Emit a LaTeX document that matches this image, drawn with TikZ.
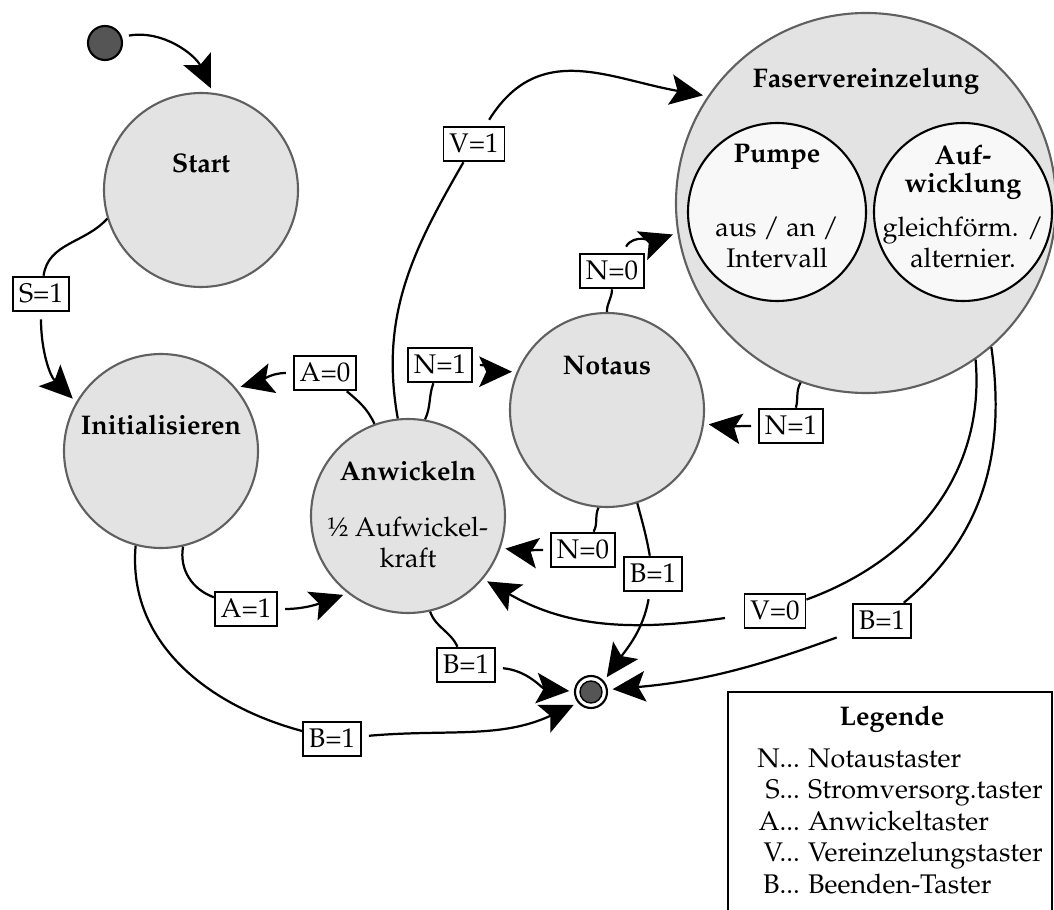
\documentclass[tikz,border=0pt]{standalone}
\usepackage[T1]{fontenc}
\usepackage{mathpazo}
\usetikzlibrary{arrows.meta}
\definecolor{stategray}{HTML}{E3E3E3}
\definecolor{rimgray}{HTML}{606060}
\definecolor{dotgray}{HTML}{555555}
\definecolor{subwhite}{HTML}{F8F8F8}
\newcommand{\px}{0.015cm}
\newcommand{\figfont}{\fontsize{11.5pt}{13.5pt}\selectfont}

\tikzset{
  state/.style={circle, draw=rimgray, fill=stategray, line width=0.9pt,
    minimum size=2.91cm, inner sep=0pt},
  bigstate/.style={state, minimum size=5.7cm},
  substate/.style={circle, draw=black, fill=subwhite, line width=0.9pt,
    minimum size=2.67cm, inner sep=0pt},
  % multi-line nodes sit on the baseline of their last line
  title/.style={font=\figfont\bfseries, anchor=base, align=center},
  body/.style={font=\figfont, anchor=base, align=center},
  cond/.style={draw, fill=white, line width=0.8pt, font=\figfont,
    inner xsep=2.5pt, inner ysep=2.4pt, text height=8.5pt, text depth=1.5pt},
  trans/.style={line width=0.95pt, -{Stealth[length=14pt,width=13pt,inset=3pt]},
    shorten >=2pt, shorten <=3pt},
  initdot/.style={circle, draw, fill=dotgray, line width=0.9pt,
    minimum size=0.51cm, inner sep=0pt},
  finring/.style={circle, draw, fill=white, line width=0.9pt,
    minimum size=0.48cm, inner sep=0pt},
  findot/.style={circle, draw, fill=dotgray, line width=0.6pt,
    minimum size=0.33cm, inner sep=0pt}
}

\begin{document}
\begin{tikzpicture}[x=\px, y=\px]
  \clip (0,0) rectangle (1054,909);

  % states
  \node[initdot] (ini) at (105,866) {};
  \node[state] (start) at (201,719) {};
  \node[title] (start-t) at (201,736) {Start};

  \node[state] (init) at (161,458) {};
  \node[title] (init-t) at (161,474) {Initialisieren};

  \node[state] (anw) at (408,393) {};
  \node[title] (anw-t) at (408,428) {Anwickeln};
  \node[body] (anw-b) at (408,341) {\textonehalf{} Aufwickel-\\kraft};

  \node[state] (notaus) at (607,499) {};
  \node[title] (notaus-t) at (607,534) {Notaus};

  \node[bigstate] (faser) at (866,706) {};
  \node[title] (faser-t) at (866,821) {Faservereinzelung};
  \node[substate] (pumpe) at (777,697) {};
  \node[title] (pumpe-t) at (777,746) {Pumpe};
  \node[body] (pumpe-b) at (777,641) {aus / an /\\Intervall};
  \node[substate] (aufw) at (963,697) {};
  \node[title] (aufw-t) at (963,716) {Auf-\\[-1.5pt]wicklung};
  \node[body] (aufw-b) at (963,641) {gleichf\"orm. /\\alternier.};

  \node[finring] (fin) at (591,217) {};
  \node[findot] (fin-in) at (591,217) {};

  % conditions
  \node[cond] (s1) at (41,615) {S=1};
  \node[cond] (a1) at (246,300) {A=1};
  \node[cond] (a0) at (325,536) {A=0};
  \node[cond] (v1) at (474,765) {V=1};
  \node[cond] (n1a) at (440,544) {N=1};
  \node[cond] (n0a) at (612,638) {N=0};
  \node[cond] (n1b) at (791,483) {N=1};
  \node[cond] (n0b) at (583,359) {N=0};
  \node[cond] (b1a) at (653,335) {B=1};
  \node[cond] (v0) at (775,298) {V=0};
  \node[cond] (b1b) at (882,288) {B=1};
  \node[cond] (b1c) at (466,244) {B=1};
  \node[cond] (b1d) at (332,170) {B=1};

  % transitions
  \draw[trans] (ini.20) to[out=10,in=115] (start.83);
  \draw[trans] (start.197) to[out=228,in=82] (s1) to[out=-90,in=135] (init.150);
  \draw[trans] (init.283) to[out=-100,in=160] (a1) to[out=0,in=200] (anw.232);
  \draw[trans] (anw.110) to[out=115,in=-40] (a0) to[out=180,in=15] (init.40);
  \draw[trans] (anw.96) to[out=100,in=240] (v1) to[out=58,in=170,looseness=1.15] (faser.146);
  \draw[trans] (anw.80) to[out=65,in=-110] (n1a) to[out=0,in=180] (notaus.157);
  \draw[trans] (notaus.90) to[out=92,in=-90] (n0a) to[out=60,in=200] (faser.189);
  \draw[trans] (faser.250) to[out=240,in=75] (n1b) to[out=180,in=-8] (notaus.-8);
  \draw[trans] (notaus.265) to[out=245,in=60] (n0b) to[out=180,in=-8] (anw.-19);
  \draw[trans] (notaus.288) to[out=-75,in=100] (b1a) to[out=-100,in=55] (fin.40);
  \draw[trans, shorten <=8pt] (faser.-55) to[out=-85,in=20] (v0) to[out=188,in=-30] (anw.-40);
  \draw[trans, shorten <=7pt] (faser.-49) to[out=-82,in=40] (b1b) to[out=200,in=5] (fin.8);
  \draw[trans] (anw.-77) to[out=-70,in=115] (b1c) to[out=-5,in=175] (fin.178);
  \draw[trans] (init.-105) to[out=-95,in=165] (b1d) to[out=5,in=205] (fin.220);

  % legend
  \draw[line width=0.7pt] (728,-20) rectangle (1052,217);
  \node[title] (leg-t) at (892,184) {Legende};
  \node[body, anchor=base west, align=left] (leg) at (749,142)
    {\begin{tabular}[t]{@{}r@{ }l@{}}
      N... & Notaustaster\\
      S... & Stromversorg.taster\\
      A... & Anwickeltaster\\
      V... & Vereinzelungstaster\\
      B... & Beenden-Taster
    \end{tabular}};
\end{tikzpicture}
\end{document}
